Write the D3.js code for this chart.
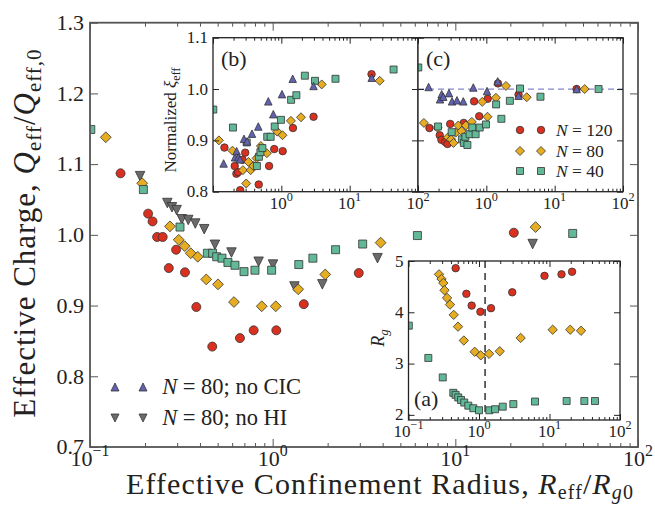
<!DOCTYPE html>
<html>
<head>
<meta charset="utf-8">
<script src="https://cdn.jsdelivr.net/npm/d3@7"></script>
<style>
body { margin:0; background:#fff }
text { font-family:'Liberation Serif', 'DejaVu Serif', serif; fill:#222 }
</style>
</head>
<body>
<div id="chart"></div>
<script>
var W = 655
var H = 505

// ---- main panel: [R_eff/R_g0, Q_eff/Q_eff,0]
var mainN120 = [[0.147,1.087],[0.208,1.030],[0.220,1.019],[0.233,0.997],[0.250,0.997],[0.270,0.953],[0.296,0.979],
                [0.331,0.947],[0.382,0.898],[0.467,0.842],[0.662,0.854],[0.787,0.865],[1.047,0.865],[1.48,0.902],
                [2.96,0.946],[20.9,1.003]]
var mainN80  = [[0.122,1.138],[0.193,1.073],[0.274,1.012],[0.306,0.993],[0.330,0.984],[0.356,0.974],[0.389,0.969],
                [0.433,0.937],[0.502,0.930],[0.614,0.905],[0.871,0.899],[1.04,0.899],[1.38,0.923],[1.94,0.944],
                [3.90,0.989],[27.5,1.011]]
var mainN40  = [[0.101,1.149],[0.196,1.064],[0.311,1.011],[0.439,0.974],[0.469,0.974],[0.494,0.969],[0.528,0.967],
                [0.569,0.961],[0.622,0.957],[0.697,0.948],[0.800,0.950],[0.987,0.950],[1.39,0.958],[1.66,0.967],
                [2.21,0.979],[3.11,0.987],[6.20,0.999],[43.9,1.002]]
var mainNoHI = [[0.188,1.083],[0.265,1.045],[0.281,1.039],[0.298,1.035],[0.318,1.022],[0.345,1.021],[0.377,1.016],
                [0.422,1.008],[0.483,0.986],[0.595,0.975],[0.838,0.962],[1.004,0.958],[1.316,0.927],[1.87,0.930],
                [3.75,0.967],[26.5,0.987]]

// ---- inset (b): normalized xi_eff
var bN120  = [[0.147,0.886],[0.208,0.850],[0.220,0.835],[0.233,0.838],[0.250,0.803],[0.270,0.862],[0.296,0.876],
              [0.467,0.814],[0.662,0.850],[0.787,0.883],[1.047,0.879],[1.48,0.924],[2.96,0.946],[20.9,1.029]]
var bN80   = [[0.122,0.900],[0.193,0.880],[0.274,0.842],[0.306,0.816],[0.330,0.858],[0.356,0.842],[0.389,0.850],
              [0.433,0.865],[0.502,0.889],[0.614,0.875],[0.871,0.917],[1.04,0.910],[1.38,0.938],[1.94,0.945],
              [3.90,1.009],[27.5,1.016]]
var bN40   = [[0.101,0.960],[0.196,0.925],[0.311,0.896],[0.439,0.850],[0.469,0.868],[0.494,0.877],[0.528,0.885],
              [0.622,0.907],[0.697,0.907],[0.800,0.927],[0.987,0.940],[1.39,0.979],[1.66,0.988],[2.21,1.026],
              [3.11,1.016],[6.20,1.020],[43.9,1.038]]
var bNoCIC = [[0.143,0.855],[0.210,0.867],[0.222,0.879],[0.234,0.867],[0.248,0.863],[0.284,0.903],[0.315,0.898],
              [0.372,0.913],[0.460,0.927],[0.645,0.976],[0.763,0.951],[1.023,0.990],[1.467,1.020],[2.96,1.006],
              [21.0,1.022]]

// ---- inset (c)
var cN120  = [[0.147,0.924],[0.208,0.910],[0.220,0.901],[0.250,0.897],[0.270,0.893],[0.296,0.932],[0.467,0.934],
              [0.662,0.976],[0.787,0.947],[1.047,0.981],[1.48,1.011],[2.96,0.989],[20.9,1.000]]
var cN80   = [[0.122,0.934],[0.193,0.925],[0.274,0.906],[0.306,0.902],[0.330,0.895],[0.356,0.915],[0.389,0.929],
              [0.433,0.918],[0.502,0.929],[0.614,0.936],[0.871,0.975],[1.04,0.946],[1.38,0.983],[1.94,1.006],
              [3.90,0.984],[27.5,1.000]]
var cN40   = [[0.101,1.042],[0.196,0.927],[0.311,0.916],[0.439,0.902],[0.469,0.895],[0.494,0.907],[0.528,0.891],
              [0.569,0.912],[0.622,0.925],[0.697,0.912],[0.800,0.925],[0.987,0.931],[1.39,0.970],[1.66,0.942],
              [2.21,0.977],[3.11,1.001],[6.20,0.985],[43.9,1.000]]
var cNoCIC = [[0.143,1.004],[0.210,0.980],[0.222,0.990],[0.234,0.985],[0.284,0.992],[0.315,0.976],[0.372,0.978],
              [0.460,0.976],[0.645,1.003],[1.023,0.996],[1.467,1.015],[2.96,0.987],[21.0,1.000]]
var cRef   = 1.0

// ---- inset (a): R_g
var aN120 = [[0.467,4.86],[0.662,4.36],[0.787,4.13],[1.047,4.01],[1.48,4.08],[2.96,4.39],[8.49,4.71],[14.8,4.74],[20.9,4.79]]
var aN80  = [[0.271,4.74],[0.294,4.65],[0.312,4.57],[0.324,4.43],[0.352,4.28],[0.388,4.15],[0.438,3.95],[0.504,3.72],
             [0.609,3.45],[0.869,3.23],[1.06,3.16],[1.39,3.19],[1.97,3.24],[3.90,3.50],[11.1,3.66],[19.7,3.66],[28.0,3.64]]
var aN40  = [[0.101,3.74],[0.191,3.11],[0.306,2.73],[0.432,2.43],[0.466,2.39],[0.508,2.34],[0.556,2.29],[0.618,2.24],
             [0.705,2.18],[0.830,2.13],[1.00,2.09],[1.40,2.09],[1.69,2.11],[2.17,2.16],[3.07,2.21],[6.23,2.26],
             [17.5,2.27],[31.2,2.27],[44.2,2.27]]
var aRef  = 1.22

// ---- ticks
var mainYTicks  = [0.7,0.8,0.9,1.0,1.1,1.2,1.3]
var insetYTicks = [0.8,0.9,1.0,1.1]
var aYTicks     = [2,3,4,5]
var mainXExp    = [-1,0,1,2]
var insetXExp   = [0,1,2]

var colors = { n120:'#d9301f', n80:'#e6ad22', n40:'#62b998', noCIC:'#6262b0', noHI:'#6b6b6b' }

var svg = d3.select('#chart').append('svg').attr('width', W).attr('height', H)

function marker(kind, s) {
    var h = s/2
    if (kind == 'circle')  return d3.symbol(d3.symbolCircle, Math.PI*h*h)()
    if (kind == 'square')  return `M${-h},${-h}H${h}V${h}H${-h}Z`
    if (kind == 'diamond') { var d = h*1.2; return `M0,${-d}L${d},0L0,${d}L${-d},0Z` }
    if (kind == 'up')      return `M0,${-h}L${h},${h}L${-h},${h}Z`
    if (kind == 'down')    return `M0,${h}L${h},${-h}L${-h},${-h}Z`
}

function panel(box, xd, yd) {
    var p = { box:box }
    p.x = d3.scaleLog().domain(xd).range([box.left, box.right])
    p.y = d3.scaleLinear().domain(yd).range([box.bottom, box.top])
    p.g = svg.append('g')
    p.g.append('rect')
        .attr('x', box.left).attr('y', box.top)
        .attr('width', box.right-box.left).attr('height', box.bottom-box.top)
        .attr('fill', '#fff')
    p.g.append('clipPath').attr('id', 'clip-'+box.name)
        .append('rect')
            .attr('x', box.left).attr('y', box.top)
            .attr('width', box.right-box.left).attr('height', box.bottom-box.top)
    p.plot = p.g.append('g').attr('clip-path', 'url(#clip-'+box.name+')')
    return p
}

function scatter(p, data, kind, color, s) {
    p.plot.append('g').selectAll('path')
        .data(data)
        .join('path')
            .attr('d', marker(kind, s))
            .attr('transform', d=> 'translate('+p.x(d[0])+','+p.y(d[1])+')')
            .attr('fill', color)
            .attr('stroke', '#333')
            .attr('stroke-width', 0.8)
}

function frame(p, yTicks, major, minor, stroke, sw) {
    var b = p.box
    var d0 = Math.round(Math.log10(p.x.domain()[0])), d1 = Math.round(Math.log10(p.x.domain()[1]))
    var majors = d3.range(d0, d1+1).map(e=> Math.pow(10, e))
    var minors = []
    d3.range(d0, d1).forEach(e=> d3.range(2, 10).forEach(k=> minors.push(k*Math.pow(10, e))))
    var clean = g=> { g.select('.domain').remove(); g.selectAll('line').attr('stroke', stroke).attr('stroke-width', 1) }
    ;[[d3.axisBottom, b.bottom], [d3.axisTop, b.top]].forEach(a=> {
        p.g.append('g').attr('transform', 'translate(0,'+a[1]+')')
            .call(a[0](p.x).tickValues(majors).tickSize(-major).tickFormat('')).call(clean)
        p.g.append('g').attr('transform', 'translate(0,'+a[1]+')')
            .call(a[0](p.x).tickValues(minors).tickSize(-minor).tickFormat('')).call(clean)
    })
    ;[[d3.axisLeft, b.left], [d3.axisRight, b.right]].forEach(a=> {
        p.g.append('g').attr('transform', 'translate('+a[1]+',0)')
            .call(a[0](p.y).tickValues(yTicks).tickSize(-major).tickFormat('')).call(clean)
    })
    p.g.append('rect')
        .attr('x', b.left).attr('y', b.top)
        .attr('width', b.right-b.left).attr('height', b.bottom-b.top)
        .attr('fill', 'none').attr('stroke', stroke).attr('stroke-width', sw)
}

function powLabel(g, x, y, e, size) {
    var t = g.append('text').attr('x', x).attr('y', y).attr('text-anchor', 'middle').attr('font-size', size)
    t.append('tspan').text('10')
    t.append('tspan').attr('dy', -size*0.45).attr('font-size', size*0.72).text(e < 0 ? '\u2212'+(-e) : ''+e)
}

function yLabels(p, ticks, fmt, size, dx) {
    p.g.append('g').selectAll('text')
        .data(ticks)
        .join('text')
            .attr('x', p.box.left - dx)
            .attr('y', d=> p.y(d))
            .attr('dy', '0.33em')
            .attr('text-anchor', 'end')
            .attr('font-size', size)
            .text(fmt)
}

function legendRow(g, x, y, kind, color, s, gap, size, parts) {
    ;[0, gap].forEach(dx=> g.append('path')
        .attr('d', marker(kind, s))
        .attr('transform', 'translate('+(x+dx)+','+y+')')
        .attr('fill', color).attr('stroke', '#333').attr('stroke-width', 0.8))
    var t = g.append('text').attr('x', x+gap+size*0.85).attr('y', y).attr('dy', '0.33em').attr('font-size', size)
    t.append('tspan').attr('font-style', 'italic').text('N')
    t.append('tspan').text(parts)
}

// ================= main axes
var main = panel({ name:'main', left:90, right:638, top:22.7, bottom:447 }, [0.1, 100], [0.7, 1.3])
scatter(main, mainNoHI, 'down',    colors.noHI, 9.5)
scatter(main, mainN120, 'circle',  colors.n120, 9)
scatter(main, mainN80,  'diamond', colors.n80,  9)
scatter(main, mainN40,  'square',  colors.n40,  8)
frame(main, mainYTicks, 8, 4, '#555', 1.8)
yLabels(main, mainYTicks, d3.format('.1f'), 22, 6)
mainXExp.forEach(e=> powLabel(svg, main.x(Math.pow(10, e)), 466, e, 22))

legendRow(main.g, 115, 387, 'up',   colors.noCIC, 8, 28, 22.5, ' = 80; no CIC')
legendRow(main.g, 115, 418, 'down', colors.noHI,  8, 28, 22.5, ' = 80; no HI')

var yl = svg.append('text')
    .attr('transform', 'translate(35,233) rotate(-90)')
    .attr('text-anchor', 'middle').attr('font-size', 31).attr('letter-spacing', 1)
yl.append('tspan').text('Effective Charge, ')
yl.append('tspan').attr('font-style', 'italic').text('Q')
yl.append('tspan').attr('font-size', 21).attr('dy', 6).text('eff')
yl.append('tspan').attr('dy', -6).text('/')
yl.append('tspan').attr('font-style', 'italic').text('Q')
yl.append('tspan').attr('font-size', 21).attr('dy', 6).text('eff,0')

var xl = svg.append('text')
    .attr('x', 380).attr('y', 494)
    .attr('text-anchor', 'middle').attr('font-size', 30).attr('letter-spacing', 1.1)
xl.append('tspan').text('Effective Confinement Radius, ')
xl.append('tspan').attr('font-style', 'italic').text('R')
xl.append('tspan').attr('font-size', 20).attr('dy', 5).text('eff')
xl.append('tspan').attr('dy', -5).text('/')
xl.append('tspan').attr('font-style', 'italic').text('R')
xl.append('tspan').attr('font-size', 20).attr('dy', 5).attr('font-style', 'italic').text('g')
xl.append('tspan').attr('font-size', 20).text('0')

// ================= inset (b)
var pb = panel({ name:'b', left:213, right:418, top:37.7, bottom:191.7 }, [0.1, 100], [0.8, 1.1])
scatter(pb, bN120,  'circle',  colors.n120,  7.5)
scatter(pb, bN80,   'diamond', colors.n80,   7.5)
scatter(pb, bN40,   'square',  colors.n40,   7)
scatter(pb, bNoCIC, 'up',      colors.noCIC, 7.5)
frame(pb, insetYTicks, 6, 3, '#222', 1.3)
yLabels(pb, insetYTicks, d3.format('.1f'), 17, 5)
insetXExp.forEach(e=> powLabel(svg, pb.x(Math.pow(10, e)), 209, e, 17))
pb.g.append('text').attr('x', 221).attr('y', 66).attr('font-size', 22).text('(b)')

var nl = svg.append('text')
    .attr('transform', 'translate(176,120) rotate(-90)')
    .attr('text-anchor', 'middle').attr('font-size', 17)
nl.append('tspan').text('Normalized ')
nl.append('tspan').attr('font-style', 'italic').text('\u03be')
nl.append('tspan').attr('font-size', 12).attr('dy', 4).text('eff')

// ================= inset (c)
var pc = panel({ name:'c', left:418, right:623, top:37.7, bottom:191.7 }, [0.1, 100], [0.8, 1.1])
pc.plot.append('line')
    .attr('x1', pc.box.left).attr('x2', pc.box.right)
    .attr('y1', pc.y(cRef)).attr('y2', pc.y(cRef))
    .attr('stroke', '#8585c8').attr('stroke-width', 1.2).attr('stroke-dasharray', '6,4')
scatter(pc, cN120,  'circle',  colors.n120,  7.5)
scatter(pc, cN80,   'diamond', colors.n80,   7.5)
scatter(pc, cN40,   'square',  colors.n40,   7)
scatter(pc, cNoCIC, 'up',      colors.noCIC, 7.5)
frame(pc, insetYTicks, 6, 3, '#222', 1.3)
insetXExp.forEach(e=> powLabel(svg, pc.x(Math.pow(10, e)), 209, e, 17))
pc.g.append('text').attr('x', 426).attr('y', 66).attr('font-size', 22).text('(c)')

legendRow(pc.g, 520, 130, 'circle',  colors.n120, 7.5, 21, 17.5, ' = 120')
legendRow(pc.g, 520, 151, 'diamond', colors.n80,  7.5, 21, 17.5, ' = 80')
legendRow(pc.g, 520, 171, 'square',  colors.n40,  7,   21, 17.5, ' = 40')

// ================= inset (a)
var pa = panel({ name:'a', left:408.5, right:620, top:261, bottom:420 }, [0.1, 100], [1.9, 5])
pa.plot.append('line')
    .attr('x1', pa.x(aRef)).attr('x2', pa.x(aRef))
    .attr('y1', pa.box.top).attr('y2', pa.box.bottom)
    .attr('stroke', '#555').attr('stroke-width', 1.8).attr('stroke-dasharray', '7,5')
scatter(pa, aN120, 'circle',  colors.n120, 7.5)
scatter(pa, aN80,  'diamond', colors.n80,  7.8)
scatter(pa, aN40,  'square',  colors.n40,  7)
frame(pa, aYTicks, 6, 3, '#222', 1.3)
yLabels(pa, aYTicks, d3.format('d'), 17, 5)
mainXExp.forEach(e=> powLabel(svg, pa.x(Math.pow(10, e)), 437, e, 17))
pa.g.append('text').attr('x', 414).attr('y', 406).attr('font-size', 22).text('(a)')

var rl = svg.append('text')
    .attr('transform', 'translate(384,338) rotate(-90)')
    .attr('text-anchor', 'middle').attr('font-size', 18)
rl.append('tspan').attr('font-style', 'italic').text('R')
rl.append('tspan').attr('font-style', 'italic').attr('font-size', 13).attr('dy', 4).text('g')
</script>
</body>
</html>
